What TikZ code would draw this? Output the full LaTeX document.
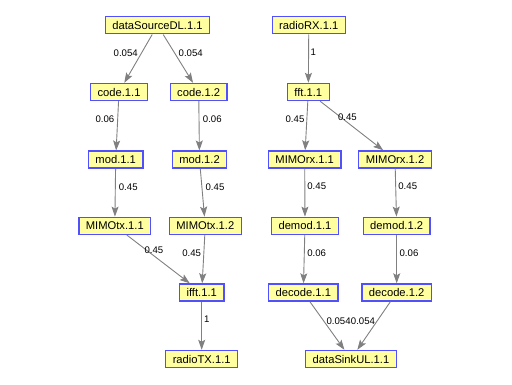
\documentclass[tikz,border=0pt]{standalone}
\usepackage{fontspec}
\setmainfont{Liberation Sans}
\usetikzlibrary{arrows.meta,positioning}
\definecolor{boxfill}{RGB}{255,255,160}
\definecolor{boxline}{RGB}{80,80,255}
\definecolor{edgegray}{RGB}{128,128,128}
\tikzset{
  task/.style={draw=boxline, line width=1.4pt, fill=boxfill, minimum height=17pt,
               inner xsep=7pt, inner ysep=2pt, font=\fontsize{11.2}{13}\selectfont},
  flow/.style={draw=edgegray, line width=0.9pt, -{Stealth[length=10pt,width=7pt,inset=2pt]}},
  wt/.style={midway, font=\fontsize{9.6}{11}\selectfont, inner sep=0pt}
}

\begin{document}
\begin{tikzpicture}[x=1pt, y=-1pt]
  \useasboundingbox (0,0) rectangle (512,385);

  % downlink chain
  \node[task] (src)   at (157.5, 25.3) {dataSourceDL.1.1};
  \node[task] (codeA) at (119.0, 92.0) {code.1.1};
  \node[task] (codeB) at (198.7, 92.0) {code.1.2};
  \node[task] (modA)  at (115.7,159.7) {mod.1.1};
  \node[task] (modB)  at (199.5,159.7) {mod.1.2};
  \node[task] (mtxA)  at (114.8,225.8) {MIMOtx.1.1};
  \node[task] (mtxB)  at (205.3,225.8) {MIMOtx.1.2};
  \node[task] (ifft)  at (201.7,292.5) {ifft.1.1};
  \node[task] (rtx)   at (201.7,359.0) {radioTX.1.1};

  % uplink chain
  \node[task] (rrx)   at (308.8, 25.3) {radioRX.1.1};
  \node[task] (fft)   at (308.3, 92.0) {fft.1.1};
  \node[task] (mrxA)  at (304.7,159.5) {MIMOrx.1.1};
  \node[task] (mrxB)  at (395.0,159.5) {MIMOrx.1.2};
  \node[task] (demA)  at (305.0,225.8) {demod.1.1};
  \node[task] (demB)  at (396.7,225.8) {demod.1.2};
  \node[task] (decA)  at (303.3,292.5) {decode.1.1};
  \node[task] (decB)  at (396.7,292.5) {decode.1.2};
  \node[task] (sink)  at (351.0,359.0) {dataSinkUL.1.1};

  \draw[flow] (src)  -- node[wt, xshift=-12.5pt, yshift=5.3pt] {0.054} (codeA);
  \draw[flow] (src)  -- node[wt, xshift=12.6pt, yshift=5.3pt] {0.054} (codeB);
  \draw[flow] (codeA) -- node[wt, xshift=-12.4pt, yshift=6.9pt] {0.06} (modA);
  \draw[flow] (codeB) -- node[wt, xshift=13.2pt, yshift=6.9pt] {0.06} (modB);
  \draw[flow] (modA) -- node[wt, xshift=13pt, yshift=6pt] {0.45} (mtxA);
  \draw[flow] (modB) -- node[wt, xshift=12.6pt, yshift=6pt] {0.45} (mtxB);
  \draw[flow] (mtxA) -- node[wt, xshift=-4.3pt, yshift=8.5pt] {0.45} (ifft);
  \draw[flow] (mtxB) -- node[wt, xshift=-11.8pt, yshift=5.9pt] {0.45} (ifft);
  \draw[flow] (ifft) -- node[wt, xshift=5pt, yshift=6.5pt] {1} (rtx);

  \draw[flow] (rrx)  -- node[wt, xshift=4.8pt, yshift=6.3pt] {1} (fft);
  \draw[flow] (fft)  -- node[wt, xshift=-11.5pt, yshift=6.8pt] {0.45} (mrxA);
  \draw[flow] (fft)  -- node[wt, xshift=-4.3pt, yshift=9pt] {0.45} (mrxB);
  \draw[flow] (mrxA) -- node[wt, xshift=11.9pt, yshift=6.6pt] {0.45} (demA);
  \draw[flow] (mrxB) -- node[wt, xshift=11.9pt, yshift=6.6pt] {0.45} (demB);
  \draw[flow] (demA) -- node[wt, xshift=12.5pt, yshift=5.9pt] {0.06} (decA);
  \draw[flow] (demB) -- node[wt, xshift=12.3pt, yshift=5.9pt] {0.06} (decB);
  \draw[flow] (decA) -- node[wt, xshift=11.5pt, yshift=4.8pt] {0.054} (sink);
  \draw[flow] (decB) -- node[wt, xshift=-10.9pt, yshift=4.8pt] {0.054} (sink);
\end{tikzpicture}
\end{document}
